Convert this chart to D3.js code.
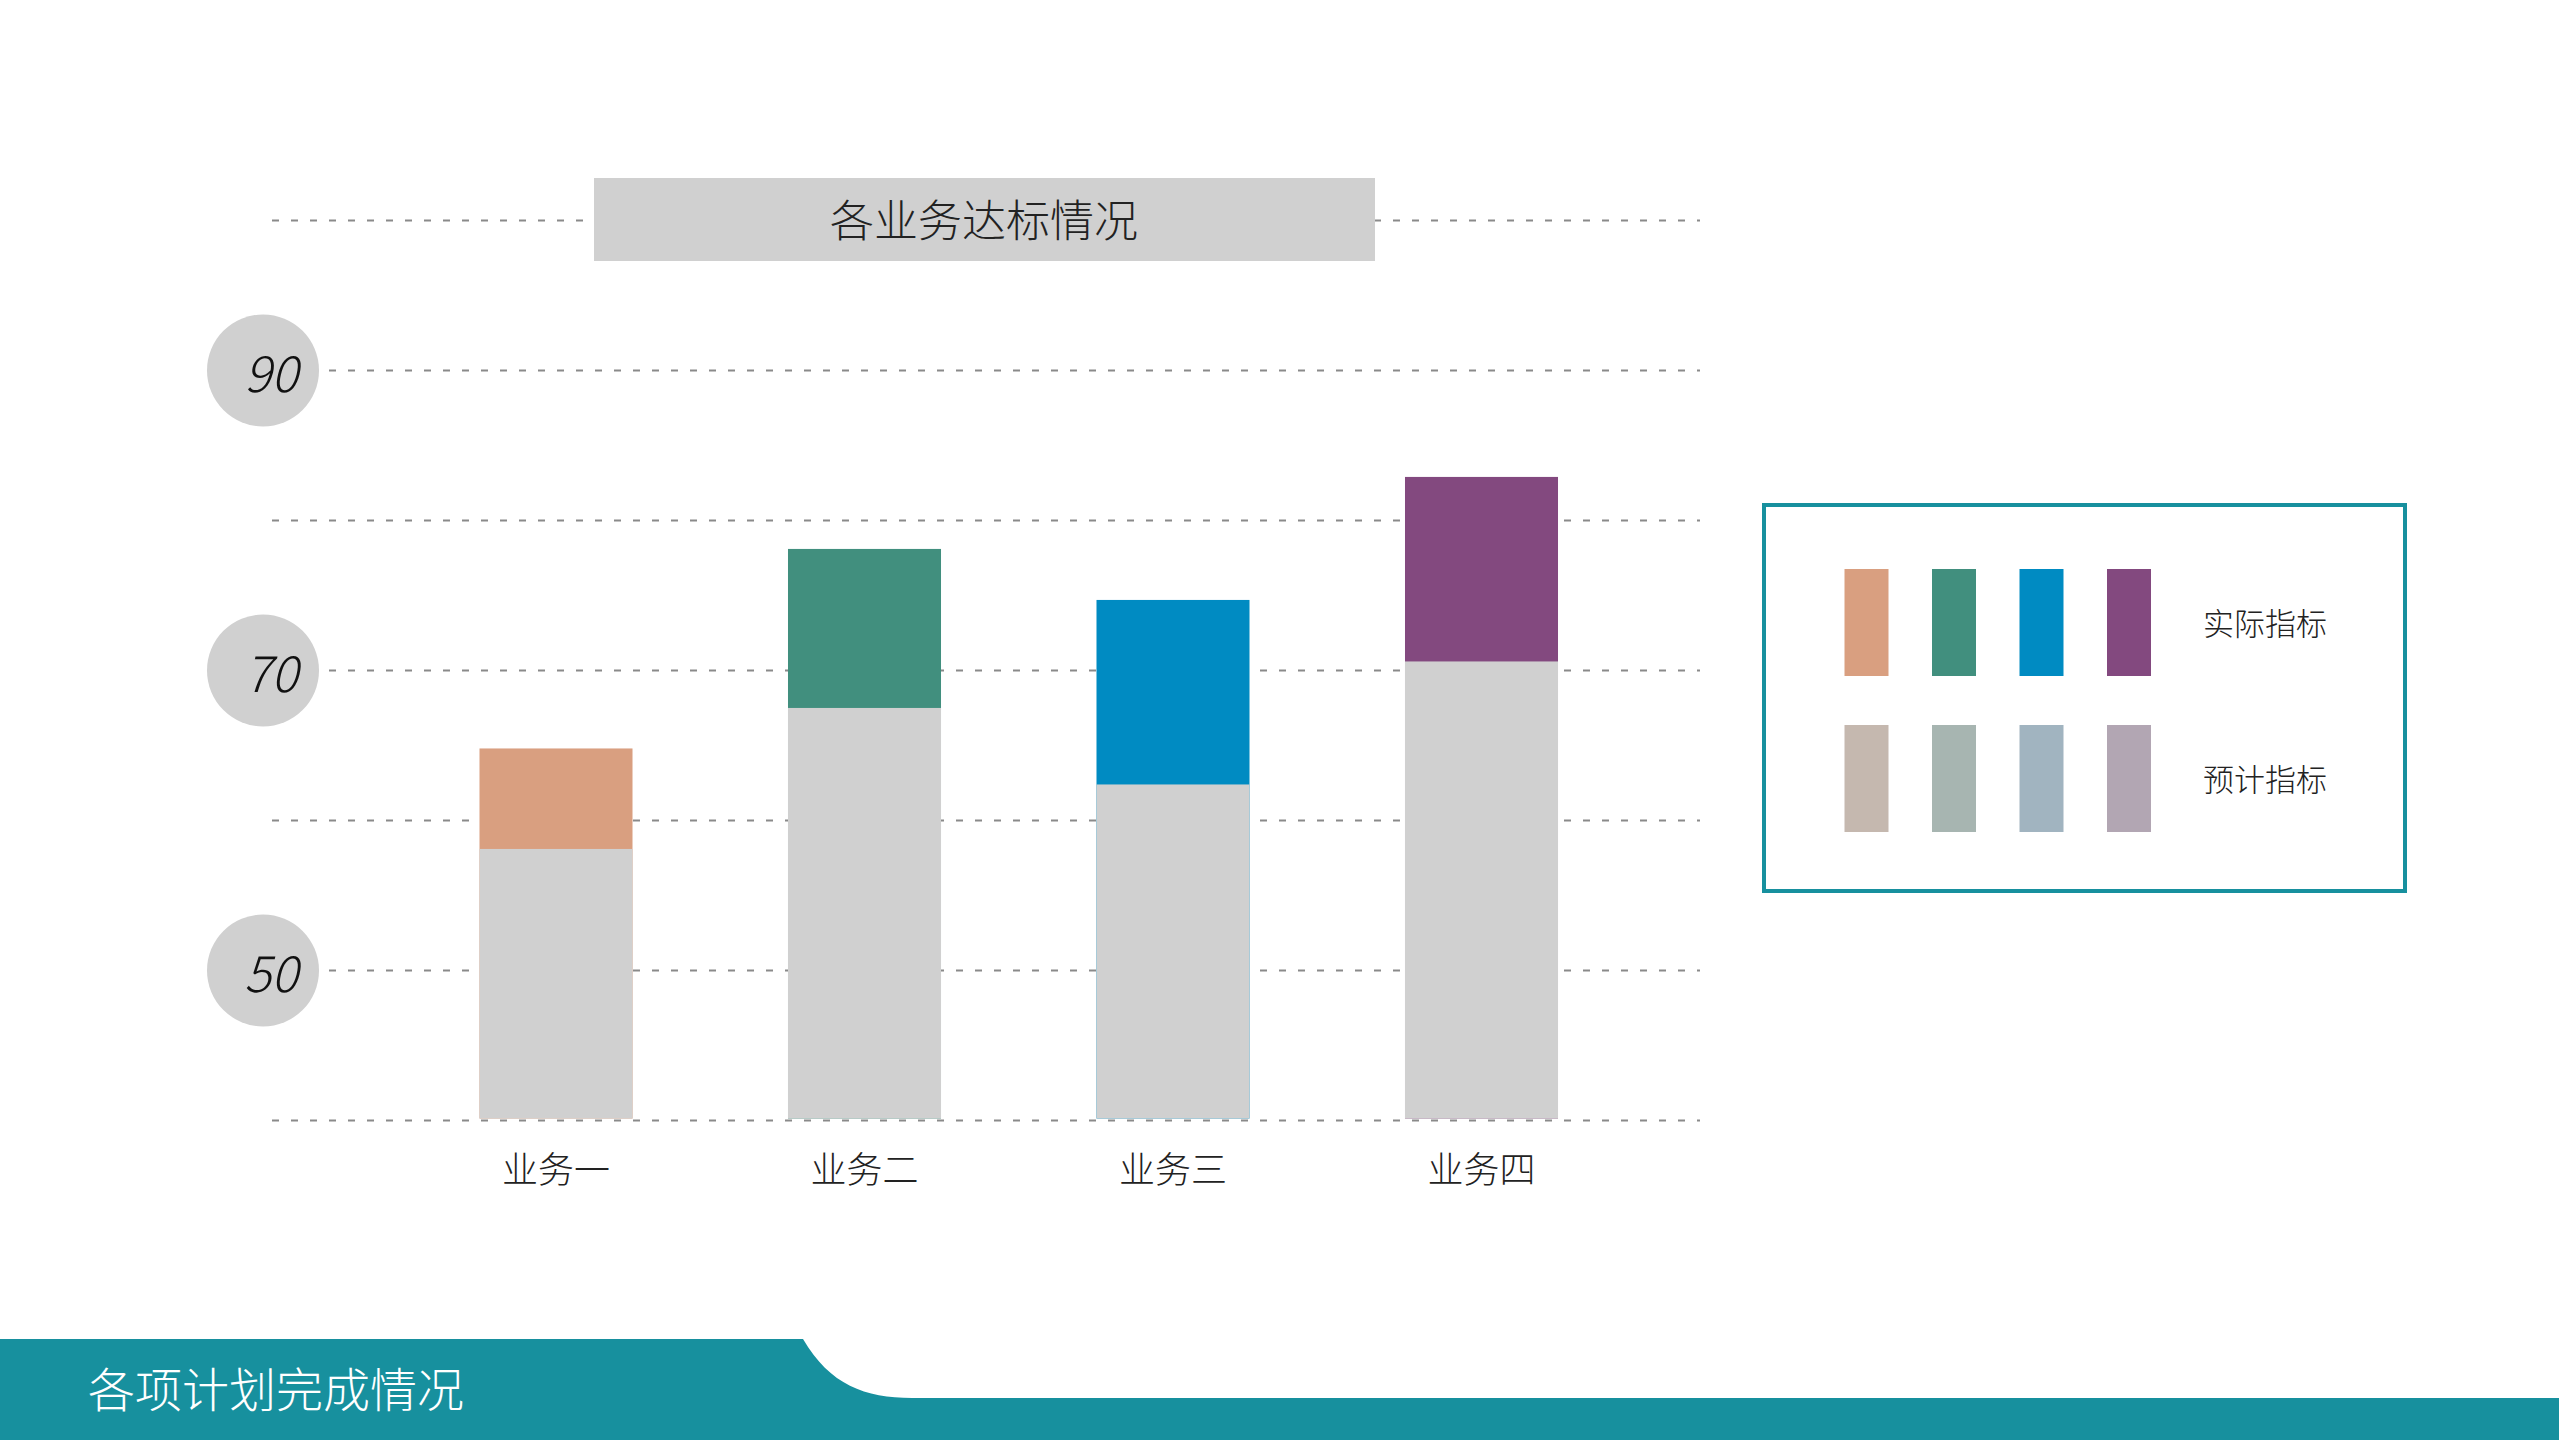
<!DOCTYPE html>
<html>
<head>
<meta charset="utf-8">
<script src="https://cdn.jsdelivr.net/npm/d3@7"></script>
<style>
  body { margin: 0; background: #fff; }
  text { font-family: "Noto Sans CJK SC", "Noto Sans", sans-serif; font-weight: 300; }
</style>
</head>
<body>
<div id="chart"></div>
<script>
// data
var categories = ["业务一", "业务二", "业务三", "业务四"];
var actual = [64.8, 78.1, 74.7, 82.9];     // 实际指标
var planned = [58.1, 67.5, 62.4, 70.6];    // 预计指标
var gridTicks = [40, 50, 60, 70, 80, 90, 100];
var labelTicks = [50, 70, 90];
var actualColors = ["#d99f80", "#418f7e", "#008bc2", "#83497f"];
var plannedColors = ["#c5b8af", "#a7b5b1", "#a1b4c0", "#b2a6b3"];
var legendLabels = ["实际指标", "预计指标"];

var width = 2559, height = 1440;
var teal = "#17909e", gray = "#d0d0d0";

var svg = d3.select("#chart").append("svg")
    .attr("width", width)
    .attr("height", height);

var y = d3.scaleLinear().domain([40, 100]).range([1120.5, 220.4]);
var x = d3.scaleBand().domain(categories)
    .range([401.75, 1635.75])
    .paddingInner(0.504)
    .paddingOuter(0.252);

// gridlines
svg.append("g").selectAll("line")
    .data(gridTicks)
    .enter().append("line")
    .attr("x1", 272).attr("x2", 1700)
    .attr("y1", function(d) { return y(d); })
    .attr("y2", function(d) { return y(d); })
    .attr("stroke", "#8a8a8a")
    .attr("stroke-width", 2)
    .attr("stroke-dasharray", "7,12");

// title box
svg.append("rect")
    .attr("x", 594).attr("y", 178)
    .attr("width", 781).attr("height", 83)
    .attr("fill", gray);
svg.append("text")
    .attr("x", 984).attr("y", 218)
    .attr("text-anchor", "middle")
    .attr("dominant-baseline", "central")
    .attr("font-size", 44)
    .attr("fill", "#222")
    .text("各业务达标情况");

// y label circles
var lab = svg.append("g").selectAll("g")
    .data(labelTicks)
    .enter().append("g")
    .attr("transform", function(d) { return "translate(263," + y(d) + ")"; });
lab.append("circle").attr("r", 56).attr("fill", gray);
lab.append("text")
    .attr("x", 8).attr("y", 0)
    .attr("text-anchor", "middle")
    .attr("dominant-baseline", "central")
    .attr("font-family", "Lato, sans-serif")
    .attr("font-style", "italic")
    .attr("font-size", 50)
    .attr("fill", "#111")
    .text(function(d) { return d; });

// bars: coloured actual value, gray planned value over it
var bars = svg.append("g").selectAll("g")
    .data(categories)
    .enter().append("g");
bars.append("rect")
    .attr("x", function(d) { return x(d); })
    .attr("width", x.bandwidth())
    .attr("y", function(d, i) { return y(actual[i]); })
    .attr("height", function(d, i) { return y(40) - 2 - y(actual[i]); })
    .attr("fill", function(d, i) { return actualColors[i]; });
bars.append("rect")
    .attr("x", function(d) { return x(d); })
    .attr("width", x.bandwidth())
    .attr("y", function(d, i) { return y(planned[i]); })
    .attr("height", function(d, i) { return y(40) - 2 - y(planned[i]); })
    .attr("fill", gray);

// x labels
svg.append("g").selectAll("text")
    .data(categories)
    .enter().append("text")
    .attr("x", function(d) { return x(d) + x.bandwidth() / 2; })
    .attr("y", 1167)
    .attr("text-anchor", "middle")
    .attr("dominant-baseline", "central")
    .attr("font-size", 36)
    .attr("fill", "#222")
    .text(function(d) { return d; });

// legend
var legend = svg.append("g");
legend.append("rect")
    .attr("x", 1764).attr("y", 505)
    .attr("width", 641).attr("height", 386)
    .attr("fill", "none")
    .attr("stroke", teal)
    .attr("stroke-width", 4);
[actualColors, plannedColors].forEach(function(cols, row) {
    var top = row === 0 ? 569 : 725;
    legend.append("g").selectAll("rect")
        .data(cols)
        .enter().append("rect")
        .attr("x", function(d, i) { return 1844.5 + i * 87.5; })
        .attr("y", top)
        .attr("width", 44).attr("height", 107)
        .attr("fill", function(d) { return d; });
    legend.append("text")
        .attr("x", 2203).attr("y", top + 52)
        .attr("dominant-baseline", "central")
        .attr("font-size", 31)
        .attr("fill", "#222")
        .text(legendLabels[row]);
});

// footer band
var path = d3.path();
path.moveTo(0, 1339);
path.lineTo(803, 1339);
path.bezierCurveTo(830, 1385, 865, 1398, 912, 1398);
path.lineTo(width, 1398);
path.lineTo(width, height);
path.lineTo(0, height);
path.closePath();
svg.append("path").attr("d", path.toString()).attr("fill", teal);
svg.append("text")
    .attr("x", 88).attr("y", 1386)
    .attr("dominant-baseline", "central")
    .attr("font-size", 47)
    .attr("fill", "#fff")
    .text("各项计划完成情况");
</script>
</body>
</html>
